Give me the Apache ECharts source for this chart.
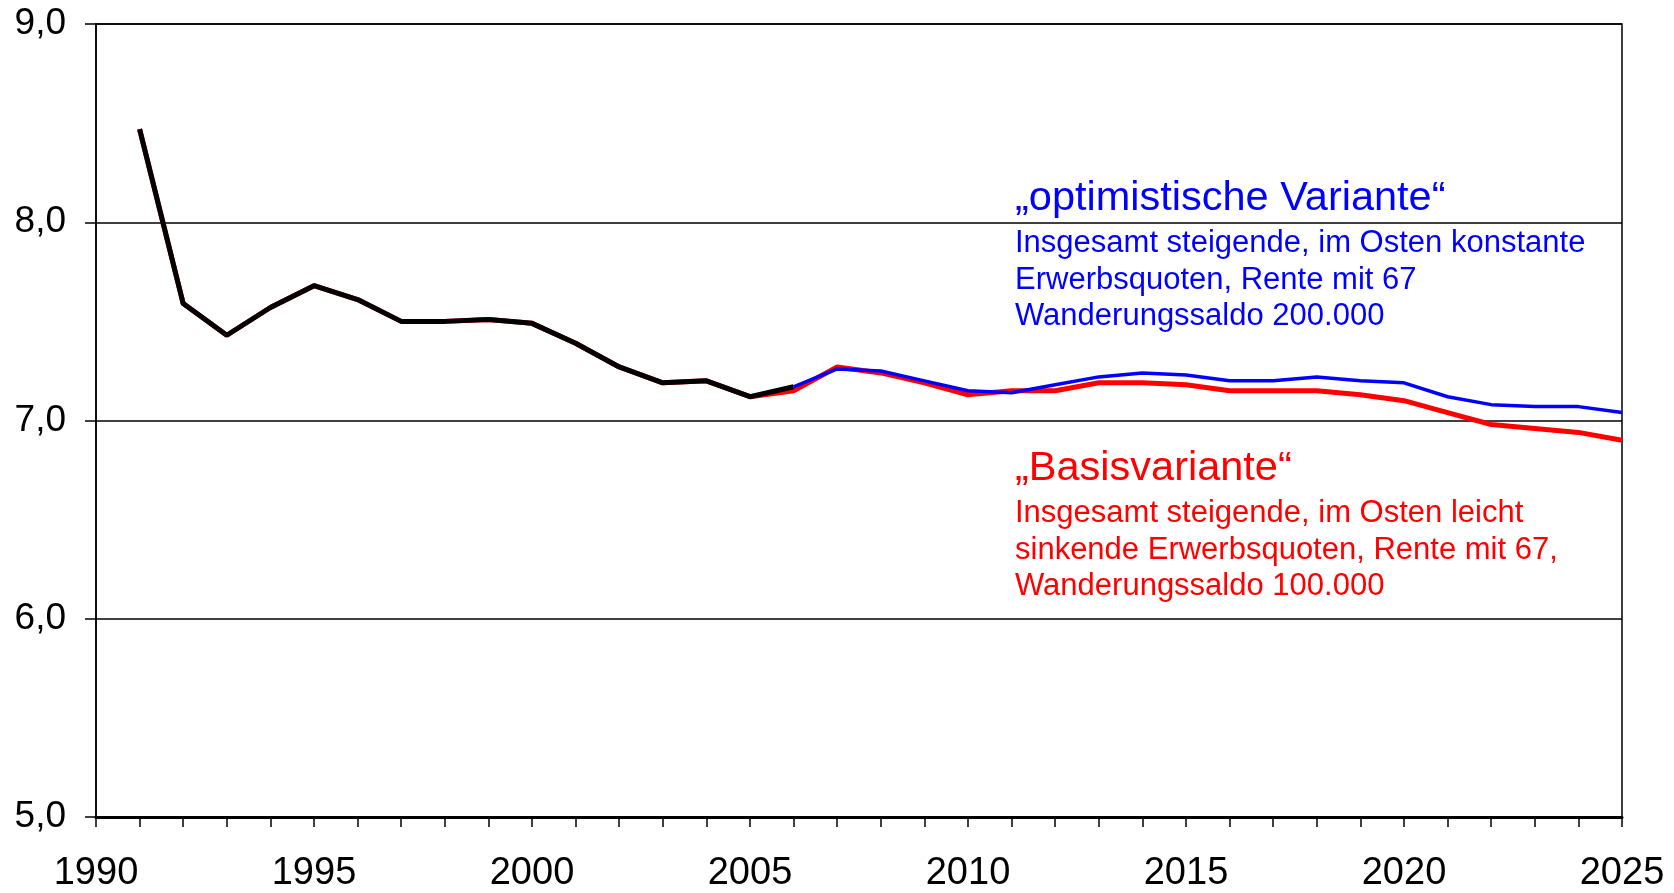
<!DOCTYPE html>
<html>
<head>
<meta charset="utf-8">
<script src="https://cdn.jsdelivr.net/npm/echarts@6/dist/echarts.min.js"></script>
<style>
  html, body { margin: 0; padding: 0; background: #fff; }
  #chart { width: 1674px; height: 893px; }
</style>
</head>
<body>
<div id="chart"></div>
<script>
// Jahre (x-Achse)
const firstYear = 1991;
const projStart = 2006;
// Ist-Werte 1991-2006
const history = [8.47, 7.59, 7.43, 7.57, 7.68, 7.61, 7.50, 7.50, 7.51, 7.49, 7.39, 7.27, 7.19, 7.20, 7.12, 7.17];
// Basisvariante 2006-2025
const basis = [7.15, 7.27, 7.24, 7.19, 7.13, 7.15, 7.15, 7.19, 7.19, 7.18, 7.15, 7.15, 7.15, 7.13, 7.10, 7.04, 6.98, 6.96, 6.94, 6.90];
// optimistische Variante 2006-2025
const optimistic = [7.17, 7.26, 7.25, 7.20, 7.15, 7.14, 7.18, 7.22, 7.24, 7.23, 7.20, 7.20, 7.22, 7.20, 7.19, 7.12, 7.08, 7.07, 7.07, 7.04];

const blueTitle = '\u201Eoptimistische Variante\u201C';
const blueText = ['Insgesamt steigende, im Osten konstante', 'Erwerbsquoten, Rente mit 67', 'Wanderungssaldo 200.000'];
const redTitle = '\u201EBasisvariante\u201C';
const redText = ['Insgesamt steigende, im Osten leicht', 'sinkende Erwerbsquoten, Rente mit 67,', 'Wanderungssaldo 100.000'];

const FONT = '"Liberation Sans", Arial, sans-serif';
let chart = null;

function toPairs(start, values) {
  return values.map((v, i) => [start + i, v]);
}

function initChart() {
  if (chart) chart.dispose();
  chart = echarts.init(document.getElementById('chart'));
  setOptions();
}

function setOptions() {
  // rote Linie liegt im Ist-Zeitraum unter der schwarzen
  const redData = toPairs(firstYear, history.slice(0, projStart - firstYear)).concat(toPairs(projStart, basis));

  const option = {
    animation: false,
    backgroundColor: '#fff',
    grid: {
      left: 96, right: 52, top: 24, bottom: 71,
      show: true, borderColor: '#000', borderWidth: 1.5
    },
    xAxis: {
      type: 'value',
      min: 1990, max: 2025, interval: 1,
      axisLine: { show: true, lineStyle: { color: '#000', width: 3 } },
      axisTick: { show: true, inside: false, length: 10, lineStyle: { color: '#000', width: 1.5 } },
      splitLine: { show: false },
      axisLabel: {
        margin: 38,
        color: '#000',
        fontFamily: FONT,
        fontSize: 38,
        showMinLabel: true,
        showMaxLabel: true,
        formatter: function (v) { return v % 5 === 0 ? String(v) : ''; }
      }
    },
    yAxis: {
      type: 'value',
      min: 5, max: 9, interval: 1,
      axisLine: { show: true, lineStyle: { color: '#000', width: 1.5 } },
      axisTick: { show: true, inside: false, length: 11, lineStyle: { color: '#000', width: 1.5 } },
      splitLine: { show: true, lineStyle: { color: '#000', width: 1.5 } },
      axisLabel: {
        margin: 30,
        color: '#000',
        fontFamily: FONT,
        fontSize: 37,
        formatter: function (v) { return v.toFixed(1).replace('.', ','); }
      }
    },
    series: [
      {
        name: 'Basisvariante', type: 'line', data: redData,
        symbol: 'none', z: 2,
        lineStyle: { color: '#ff0000', width: 5 }
      },
      {
        name: 'optimistische Variante', type: 'line', data: toPairs(projStart, optimistic),
        symbol: 'none', z: 3,
        lineStyle: { color: '#0000ff', width: 3.5 }
      },
      {
        name: 'Ist', type: 'line', data: toPairs(firstYear, history),
        symbol: 'none', z: 4,
        lineStyle: { color: '#000', width: 5 }
      }
    ],
    graphic: [
      {
        type: 'text', left: 1015, top: 178,
        style: { text: blueTitle, fill: '#0000ff', font: '41.5px ' + FONT }
      },
      {
        type: 'text', left: 1015, top: 225,
        style: { text: blueText.join('\n'), fill: '#0000ff', font: '31px ' + FONT, lineHeight: 36.7 }
      },
      {
        type: 'text', left: 1015, top: 448,
        style: { text: redTitle, fill: '#ff0000', font: '41.5px ' + FONT }
      },
      {
        type: 'text', left: 1015, top: 495,
        style: { text: redText.join('\n'), fill: '#ff0000', font: '31px ' + FONT, lineHeight: 36.7 }
      }
    ]
  };
  chart.setOption(option);
}

initChart();
</script>
</body>
</html>
